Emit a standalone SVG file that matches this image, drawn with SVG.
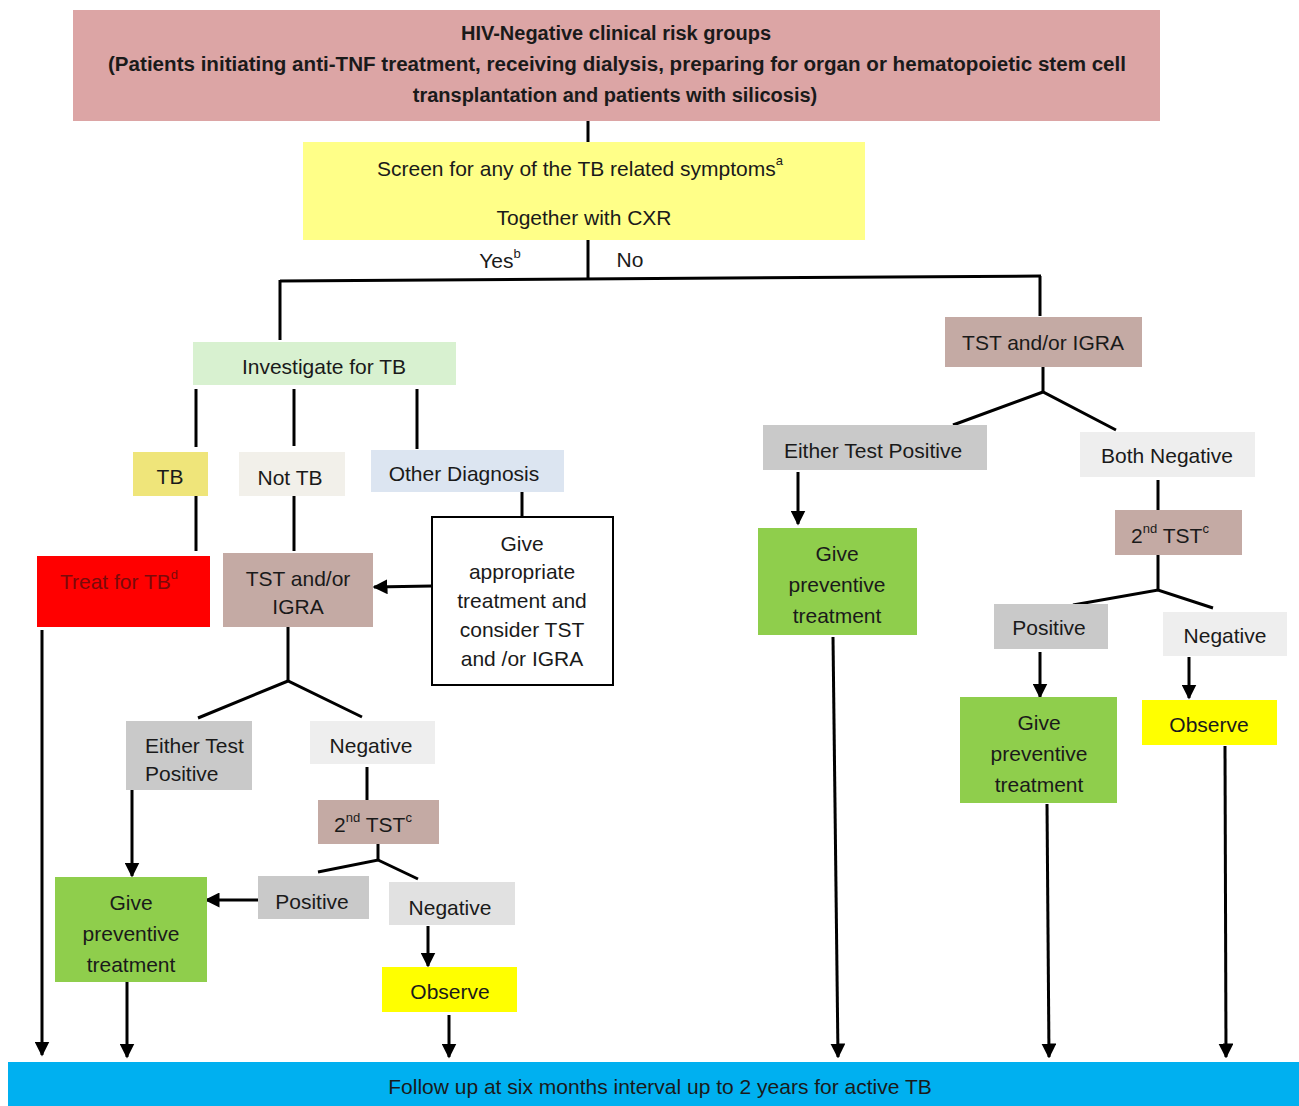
<svg xmlns="http://www.w3.org/2000/svg" width="1299" height="1106" viewBox="0 0 1299 1106">
<defs>
<marker id="ah" viewBox="0 0 10 10" refX="9" refY="5" markerWidth="5" markerHeight="5" orient="auto" markerUnits="strokeWidth">
<path d="M0,0 L10,5 L0,10 z" fill="#000"/>
</marker>
<style>
text{font-family:"Liberation Sans",Arial,sans-serif;font-size:21px;fill:#1a1a1a;text-anchor:middle;dominant-baseline:central}
.b{font-weight:bold;font-size:20px}
.ln{stroke:#000;stroke-width:3;fill:none}
.ar{stroke:#000;stroke-width:3;fill:none;marker-end:url(#ah)}
.pink{fill:#dca5a5}
.tst{fill:#c4aaa4}
.grey{fill:#c9c9c9}
.lgrey{fill:#eeeeee}
.green{fill:#8fce4c}
.yel{fill:#ffff00}
</style>
</defs>
<rect width="1299" height="1106" fill="#fff"/>

<g id="connectors">
<line class="ln" x1="588" y1="121" x2="588" y2="142"/>
<line class="ln" x1="588" y1="240" x2="588" y2="279"/>
<line class="ln" x1="280" y1="281" x2="1041" y2="276"/>
<line class="ln" x1="280" y1="280" x2="280" y2="340"/>
<line class="ln" x1="1040" y1="276" x2="1040" y2="316"/>
<line class="ln" x1="196" y1="389" x2="196" y2="447"/>
<line class="ln" x1="294" y1="389" x2="294" y2="446"/>
<line class="ln" x1="417" y1="389" x2="417" y2="449"/>
<line class="ln" x1="196" y1="496" x2="196" y2="551"/>
<line class="ln" x1="294" y1="496" x2="294" y2="551"/>
<line class="ln" x1="522" y1="492" x2="522" y2="518"/>
<line class="ar" x1="432" y1="586" x2="374" y2="587"/>
<polyline class="ln" points="198,718 288,681 362,717"/>
<line class="ln" x1="288" y1="627" x2="288" y2="681"/>
<line class="ar" x1="132" y1="790" x2="132" y2="876"/>
<line class="ln" x1="367" y1="767" x2="367" y2="800"/>
<line class="ln" x1="378" y1="844" x2="378" y2="860"/>
<polyline class="ln" points="318,872 378,860 418,879"/>
<line class="ar" x1="258" y1="900" x2="206" y2="900"/>
<line class="ar" x1="428" y1="926" x2="428" y2="966"/>
<line class="ar" x1="42" y1="630" x2="42" y2="1055"/>
<line class="ar" x1="127" y1="982" x2="127" y2="1057"/>
<line class="ar" x1="449" y1="1015" x2="449" y2="1057"/>
<line class="ln" x1="1043" y1="367" x2="1043" y2="392"/>
<polyline class="ln" points="953,425 1043,392 1116,430"/>
<line class="ar" x1="798" y1="472" x2="798" y2="524"/>
<line class="ln" x1="1158" y1="480" x2="1158" y2="510"/>
<line class="ln" x1="1158" y1="555" x2="1158" y2="590"/>
<polyline class="ln" points="1073,605 1158,590 1213,608"/>
<line class="ar" x1="1040" y1="652" x2="1040" y2="697"/>
<line class="ar" x1="1189" y1="657" x2="1189" y2="698"/>
<line class="ar" x1="833" y1="637" x2="838" y2="1057"/>
<line class="ar" x1="1047" y1="804" x2="1049" y2="1057"/>
<line class="ar" x1="1225" y1="746" x2="1226" y2="1057"/>
</g>

<g id="n-top">
<rect class="pink" x="73" y="10" width="1087" height="111"/>
<text class="b" x="616" y="33">HIV-Negative clinical risk groups</text>
<text class="b" x="617" y="64" textLength="1018" lengthAdjust="spacingAndGlyphs">(Patients initiating anti-TNF treatment, receiving dialysis, preparing for organ or hematopoietic stem cell</text>
<text class="b" x="615" y="95">transplantation and patients with silicosis)</text>
</g>

<g id="n-screen">
<rect x="303" y="142" width="562" height="98" fill="#ffff88"/>
<text x="580" y="168" font-size="22">Screen for any of the TB related symptoms<tspan font-size="13" dy="-8">a</tspan></text>
<text x="584" y="217">Together with CXR</text>
</g>

<g id="labels-yesno">
<text x="500" y="260">Yes<tspan font-size="13" dy="-7">b</tspan></text>
<text x="630" y="259">No</text>
</g>

<g id="n-investigate">
<rect x="193" y="342" width="263" height="43" fill="#d8f1d0"/>
<text x="324" y="366">Investigate for TB</text>
</g>

<g id="n-tb">
<rect x="133" y="452" width="75" height="44" fill="#efe57a"/>
<text x="170" y="476">TB</text>
</g>

<g id="n-nottb">
<rect x="239" y="452" width="106" height="44" fill="#f2f0ea"/>
<text x="290" y="477">Not TB</text>
</g>

<g id="n-other">
<rect x="371" y="450" width="193" height="42" fill="#dce5f1"/>
<text x="464" y="473">Other Diagnosis</text>
</g>

<g id="n-treat">
<rect x="37" y="556" width="173" height="71" fill="#ff0000"/>
<text x="119" y="581" style="fill:#7a0a0a">Treat for TB<tspan font-size="13" dy="-7">d</tspan></text>
</g>

<g id="n-tst-left">
<rect class="tst" x="223" y="553" width="150" height="74"/>
<text x="298" y="578">TST and/or</text>
<text x="298" y="606">IGRA</text>
</g>

<g id="n-give-appr">
<rect x="432" y="517" width="181" height="168" fill="#fff" stroke="#000" stroke-width="2"/>
<text x="522" y="543">Give</text>
<text x="522" y="571">appropriate</text>
<text x="522" y="600">treatment and</text>
<text x="522" y="629">consider TST</text>
<text x="522" y="658">and /or IGRA</text>
</g>

<g id="n-either-left">
<rect class="grey" x="126" y="721" width="126" height="69"/>
<text x="145" y="745" style="text-anchor:start">Either Test</text>
<text x="145" y="773" style="text-anchor:start">Positive</text>
</g>

<g id="n-neg-left">
<rect class="lgrey" x="310" y="721" width="125" height="43"/>
<text x="371" y="745">Negative</text>
</g>

<g id="n-2tst-left">
<rect class="tst" x="318" y="800" width="121" height="44"/>
<text x="373" y="824">2<tspan font-size="13" dy="-7">nd</tspan><tspan dy="7"> TST</tspan><tspan font-size="13" dy="-7">c</tspan></text>
</g>

<g id="n-pos-left">
<rect class="grey" x="258" y="876" width="111" height="43"/>
<text x="312" y="901">Positive</text>
</g>

<g id="n-neg2-left">
<rect fill="#e1e1e1" x="389" y="882" width="126" height="43"/>
<text x="450" y="907">Negative</text>
</g>

<g id="n-give-left">
<rect class="green" x="55" y="877" width="152" height="105"/>
<text x="131" y="902">Give</text>
<text x="131" y="933">preventive</text>
<text x="131" y="964">treatment</text>
</g>

<g id="n-observe-left">
<rect class="yel" x="382" y="967" width="135" height="45"/>
<text x="450" y="991">Observe</text>
</g>

<g id="n-tst-right">
<rect class="tst" x="945" y="317" width="197" height="50"/>
<text x="1043" y="342">TST and/or IGRA</text>
</g>

<g id="n-either-right">
<rect class="grey" x="763" y="425" width="224" height="45"/>
<text x="873" y="450">Either Test Positive</text>
</g>

<g id="n-both-neg">
<rect class="lgrey" x="1080" y="432" width="175" height="45"/>
<text x="1167" y="455">Both Negative</text>
</g>

<g id="n-give-mid">
<rect class="green" x="758" y="528" width="159" height="107"/>
<text x="837" y="553">Give</text>
<text x="837" y="584">preventive</text>
<text x="837" y="615">treatment</text>
</g>

<g id="n-2tst-right">
<rect class="tst" x="1115" y="510" width="127" height="45"/>
<text x="1170" y="535">2<tspan font-size="13" dy="-7">nd</tspan><tspan dy="7"> TST</tspan><tspan font-size="13" dy="-7">c</tspan></text>
</g>

<g id="n-pos-right">
<rect class="grey" x="994" y="604" width="114" height="45"/>
<text x="1049" y="627">Positive</text>
</g>

<g id="n-neg-right">
<rect class="lgrey" x="1163" y="612" width="124" height="44"/>
<text x="1225" y="635">Negative</text>
</g>

<g id="n-give-right">
<rect class="green" x="960" y="697" width="157" height="106"/>
<text x="1039" y="722">Give</text>
<text x="1039" y="753">preventive</text>
<text x="1039" y="784">treatment</text>
</g>

<g id="n-observe-right">
<rect class="yel" x="1142" y="700" width="135" height="45"/>
<text x="1209" y="724">Observe</text>
</g>

<g id="n-follow">
<rect x="8" y="1062" width="1291" height="44" fill="#00b0f0"/>
<text x="660" y="1086">Follow up at six months interval up to 2 years for active TB</text>
</g>
</svg>
